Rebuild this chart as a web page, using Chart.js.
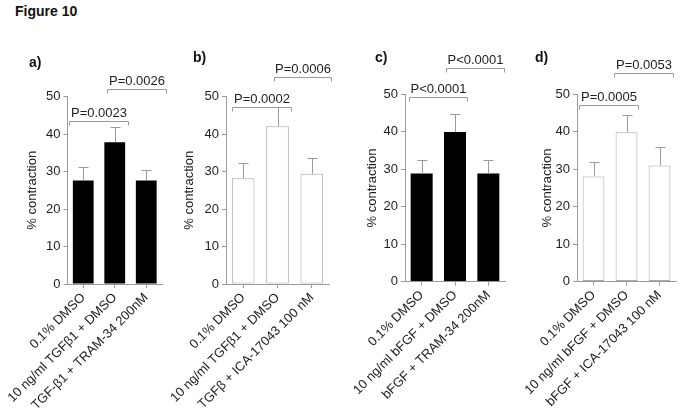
<!DOCTYPE html>
<html>
<head>
<meta charset="utf-8">
<script src="https://cdn.jsdelivr.net/npm/chart.js@4.4.1/dist/chart.umd.min.js"></script>
<style>
	body {
		margin: 0;
		width: 683px;
		height: 414px;
		background: #fff;
		position: relative;
		overflow: hidden;
		font-family: "Liberation Sans", Arial, sans-serif;
	}
	canvas {
		position: absolute;
		top: 0;
	}
	#FigureTitle {
		position: absolute;
		left: 15px;
		top: 3px;
		font-size: 14px;
		font-weight: bold;
		color: #111;
	}
</style>
</head>
<body>
<div id="FigureTitle">Figure 10</div>
<canvas id="PanelA"></canvas>
<canvas id="PanelB"></canvas>
<canvas id="PanelC"></canvas>
<canvas id="PanelD"></canvas>
<script>
// values (% contraction, mean and upper error)
const y_ticks = [0, 10, 20, 30, 40, 50];
const panel_letters = ["a)", "b)", "c)", "d)"];

const labels_a = ["0.1% DMSO", "10 ng/ml TGF\u03B21 + DMSO", "TGF-\u03B21 + TRAM-34 200nM"];
const labels_b = ["0.1% DMSO", "10 ng/ml TGF\u03B21 + DMSO", "TGF\u03B2 + ICA-17043 100 nM"];
const labels_c = ["0.1% DMSO", "10 ng/ml bFGF + DMSO", "bFGF + TRAM-34 200nM"];
const labels_d = ["0.1% DMSO", "10 ng/ml bFGF + DMSO", "bFGF + ICA-17043 100 nM"];

const means_a = [27.6, 37.8, 27.6];
const errors_a = [3.6, 4.0, 2.8];
const means_b = [28.2, 42.1, 29.4];
const errors_b = [4.0, 5.0, 4.2];
const means_c = [28.9, 40.0, 28.9];
const errors_c = [3.6, 4.8, 3.6];
const means_d = [28.1, 39.9, 31.0];
const errors_d = [3.8, 4.6, 4.9];

// significance brackets: start / end in category units, height in % contraction
const p_text_a = ["P=0.0023", "P=0.0026"];
const p_from_a = [-0.45, 0.75];
const p_to_a = [1.42, 2.63];
const p_level_a = [43.4, 51.9];

const p_text_b = ["P=0.0002", "P=0.0006"];
const p_from_b = [-0.33, 0.9];
const p_to_b = [1.39, 2.56];
const p_level_b = [47.3, 55.3];

const p_text_c = ["P<0.0001", "P<0.0001"];
const p_from_c = [-0.38, 0.73];
const p_to_c = [1.36, 2.47];
const p_level_c = [49.3, 57.1];

const p_text_d = ["P=0.0005", "P=0.0053"];
const p_from_d = [-0.44, 0.62];
const p_to_d = [1.35, 2.41];
const p_level_d = [47.2, 55.7];

const FONT = '"Liberation Sans", Arial, sans-serif';
const AXIS_GREY = "#9a9a9a";
const TEXT_COLOR = "#1e1e1e";

// page layout of the four panels (pixels)
const panel_boxes = [
	{ id: "PanelA", left: 0, width: 172, axis_left: 67.5, axis_right: 162, top: 96.5, bottom: 284, title_x: 32, letter_x: 29, letter_y: 67 },
	{ id: "PanelB", left: 159, width: 180, axis_left: 226, axis_right: 329, top: 96.5, bottom: 284, title_x: 189, letter_x: 193, letter_y: 62 },
	{ id: "PanelC", left: 338, width: 177, axis_left: 405, axis_right: 505, top: 94.5, bottom: 281.5, title_x: 372, letter_x: 375, letter_y: 62 },
	{ id: "PanelD", left: 510, width: 176, axis_left: 577, axis_right: 676, top: 94.5, bottom: 281.5, title_x: 547, letter_x: 535, letter_y: 62 },
];

const error_bar_plugin = {
	id: "errorBars",
	afterDatasetsDraw(chart, args, opts) {
		const ctx = chart.ctx;
		const y_scale = chart.scales.y;
		const meta = chart.getDatasetMeta(0);
		ctx.save();
		ctx.strokeStyle = AXIS_GREY;
		ctx.lineWidth = 1;
		meta.data.forEach(function (bar, i) {
			const x = Math.round(bar.x) + 0.5;
			const y_top = Math.round(y_scale.getPixelForValue(opts.means[i] + opts.errors[i])) + 0.5;
			const y_bar = y_scale.getPixelForValue(opts.means[i]);
			ctx.beginPath();
			ctx.moveTo(x, y_bar);
			ctx.lineTo(x, y_top);
			ctx.moveTo(x - 5, y_top);
			ctx.lineTo(x + 5, y_top);
			ctx.stroke();
		});
		ctx.restore();
	},
};

const bracket_plugin = {
	id: "brackets",
	afterDraw(chart, args, opts) {
		const ctx = chart.ctx;
		const x_scale = chart.scales.x;
		const y_scale = chart.scales.y;
		ctx.save();
		ctx.strokeStyle = AXIS_GREY;
		ctx.lineWidth = 1;
		ctx.fillStyle = TEXT_COLOR;
		ctx.font = "13px " + FONT;
		ctx.textAlign = "center";
		ctx.textBaseline = "alphabetic";
		for (let i = 0; i < opts.text.length; i++) {
			const x1 = Math.round(x_scale.getPixelForValue(opts.from[i])) + 0.5;
			const x2 = Math.round(x_scale.getPixelForValue(opts.to[i])) + 0.5;
			const y = Math.round(y_scale.getPixelForValue(opts.level[i])) + 0.5;
			ctx.beginPath();
			ctx.moveTo(x1, y + 4);
			ctx.lineTo(x1, y);
			ctx.lineTo(x2, y);
			ctx.lineTo(x2, y + 4);
			ctx.stroke();
			ctx.fillText(opts.text[i], (x1 + x2) / 2, y - 5);
		}
		// panel letter
		ctx.font = "bold 14px " + FONT;
		ctx.textAlign = "left";
		ctx.fillStyle = "#111";
		ctx.fillText(opts.letter, opts.letter_x, opts.letter_y);
		ctx.restore();
	},
};

function make_panel(box, letter, labels, means, errors, filled, p_text, p_from, p_to, p_level) {
	const canvas = document.getElementById(box.id);
	canvas.width = box.width;
	canvas.height = 414;
	canvas.style.left = box.left + "px";

	const pad_left = box.title_x - box.left - 7.8;
	const y_width = box.axis_left - box.left - pad_left;
	const pad_right = box.width - (box.axis_right - box.left);
	const x_height = 414 - box.bottom;

	return new Chart(canvas.getContext("2d"), {
		type: "bar",
		data: {
			labels: labels,
			datasets: [
				{
					data: means,
					backgroundColor: filled ? "#000" : "#fff",
					borderColor: filled ? "#000" : "#a8a8a8",
					borderWidth: filled ? 0 : 1,
					borderSkipped: false,
					categoryPercentage: 1,
					barPercentage: 0.66,
				},
			],
		},
		options: {
			responsive: false,
			devicePixelRatio: 1,
			animation: false,
			layout: {
				padding: { left: pad_left, right: pad_right, top: box.top, bottom: 0 },
			},
			scales: {
				x: {
					grid: {
						display: true,
						drawOnChartArea: false,
						offset: false,
						tickLength: 4,
						color: AXIS_GREY,
					},
					border: { color: AXIS_GREY },
					ticks: {
						autoSkip: false,
						maxRotation: 45,
						minRotation: 45,
						padding: 2,
						color: TEXT_COLOR,
						font: { family: FONT, size: 13 },
					},
					afterFit: function (scale) {
						scale.height = x_height;
						scale.paddingLeft = 0;
						scale.paddingRight = 0;
					},
				},
				y: {
					min: 0,
					max: 50,
					afterBuildTicks: function (scale) {
						scale.ticks = y_ticks.map(function (v) {
							return { value: v };
						});
					},
					grid: {
						display: true,
						drawOnChartArea: false,
						tickLength: 4,
						color: AXIS_GREY,
					},
					border: { color: AXIS_GREY },
					ticks: {
						padding: 3,
						color: TEXT_COLOR,
						font: { family: FONT, size: 13 },
					},
					title: {
						display: true,
						text: "% contraction",
						color: TEXT_COLOR,
						padding: 0,
						font: { family: FONT, size: 13 },
					},
					afterFit: function (scale) {
						scale.width = y_width;
					},
				},
			},
			plugins: {
				legend: { display: false },
				tooltip: { enabled: false },
				errorBars: { means: means, errors: errors },
				brackets: {
					text: p_text,
					from: p_from,
					to: p_to,
					level: p_level,
					letter: letter,
					letter_x: box.letter_x - box.left,
					letter_y: box.letter_y,
				},
			},
		},
		plugins: [error_bar_plugin, bracket_plugin],
	});
}

make_panel(panel_boxes[0], panel_letters[0], labels_a, means_a, errors_a, true, p_text_a, p_from_a, p_to_a, p_level_a);
make_panel(panel_boxes[1], panel_letters[1], labels_b, means_b, errors_b, false, p_text_b, p_from_b, p_to_b, p_level_b);
make_panel(panel_boxes[2], panel_letters[2], labels_c, means_c, errors_c, true, p_text_c, p_from_c, p_to_c, p_level_c);
make_panel(panel_boxes[3], panel_letters[3], labels_d, means_d, errors_d, false, p_text_d, p_from_d, p_to_d, p_level_d);
</script>
</body>
</html>
